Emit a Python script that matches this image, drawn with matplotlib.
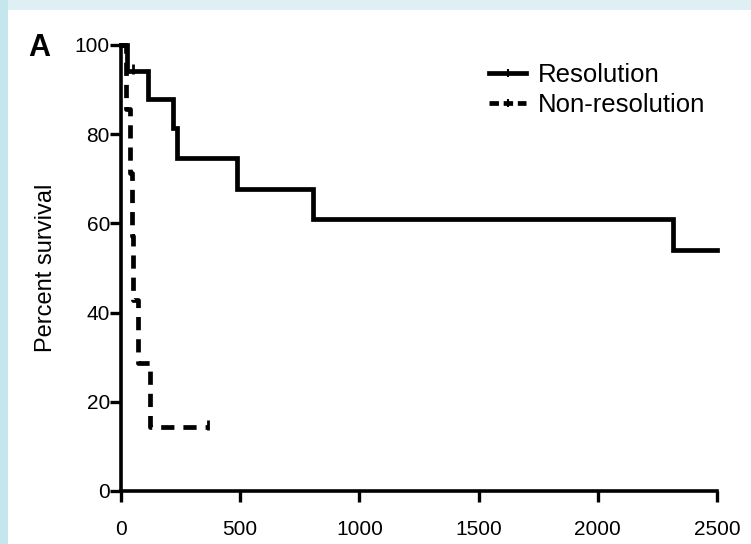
import matplotlib
matplotlib.use("Agg")
import matplotlib.pyplot as plt
from matplotlib import font_manager
from matplotlib.lines import Line2D
from matplotlib.patches import Rectangle

# ---- data ----
res_times = [0, 24, 115, 217, 236, 485, 805, 2317, 2499]
res_surv = [100, 94.1, 87.9, 81.3, 74.6, 67.7, 60.9, 54.1, 54.1]
res_cens_t = [50]
res_cens_s = [94.1]

non_times = [0, 20, 38, 46, 52, 73, 121, 366]
non_surv = [100, 85.7, 71.4, 57.1, 42.9, 28.6, 14.3, 14.3]
non_cens_t = [366]
non_cens_s = [14.3]

xticks = [0, 500, 1000, 1500, 2000, 2500]
yticks = [0, 20, 40, 60, 80, 100]
series_labels = ["Resolution", "Non-resolution"]

names = {f.name for f in font_manager.fontManager.ttflist}
fam = "Liberation Sans Narrow" if "Liberation Sans Narrow" in names else "Liberation Sans"
plt.rcParams["font.family"] = [fam, "DejaVu Sans"]

W, H = 751, 544
fig = plt.figure(figsize=(W / 100, H / 100), dpi=100)
fig.patch.set_facecolor("white")

# background frame
fig.add_artist(Rectangle((0, 1 - 10 / H), 1, 10 / H, transform=fig.transFigure,
                         facecolor="#dff0f5", edgecolor="none", zorder=0))
fig.add_artist(Rectangle((0, 0), 8 / W, 1, transform=fig.transFigure,
                         facecolor="#c5e6ed", edgecolor="none", zorder=0))

ax = fig.add_axes([121 / W, 1 - 491 / H, (717 - 121) / W, (491 - 45) / H])
ax.set_facecolor("none")

lw = 3.4
ax.step(non_times, non_surv, where="post", color="black", lw=lw,
        linestyle=(0, (2.8, 1.9)), clip_on=False, zorder=3)
ax.step(res_times, res_surv, where="post", color="black", lw=lw,
        clip_on=False, zorder=4, solid_joinstyle="miter")
ax.plot(res_cens_t, [s + 0.6 for s in res_cens_s], linestyle="none", marker="|",
        markersize=7, mew=2, color="black", clip_on=False, zorder=5)
ax.plot(non_cens_t, [s + 0.6 for s in non_cens_s], linestyle="none", marker="|",
        markersize=7, mew=2, color="black", clip_on=False, zorder=5)

ax.set_xlim(0, 2500)
ax.set_ylim(0, 100)
ax.set_xticks(xticks)
ax.set_yticks(yticks)
ax.set_xticklabels([str(v) for v in xticks], fontsize=15)
ax.set_yticklabels([str(v) for v in yticks], fontsize=15)
for s in ["top", "right"]:
    ax.spines[s].set_visible(False)
for s in ["left", "bottom"]:
    ax.spines[s].set_linewidth(2.6)
ax.tick_params(axis="both", direction="out", length=8, width=2.4, color="black")
ax.tick_params(axis="x", pad=13)
ax.tick_params(axis="y", pad=0)

ax.set_ylabel("Percent survival", fontsize=17, labelpad=13)

fig.text(28 / W, 1 - 48 / H, "A", fontsize=22, fontweight="bold",
         ha="left", va="center", family=["Liberation Sans", "DejaVu Sans"])

handles = [
    Line2D([0], [0], color="black", lw=lw, marker="|", markersize=6, mew=1.5),
    Line2D([0], [0], color="black", lw=lw, linestyle=(0, (2.0, 1.0)), marker="|",
           markersize=6, mew=1.5),
]
leg = ax.legend(handles, series_labels, loc="upper left",
                bbox_to_anchor=(489 / W, 1 - 63 / H), bbox_transform=fig.transFigure,
                frameon=False, fontsize=18.5, handlelength=1.45, handletextpad=0.45,
                labelspacing=0.25, borderpad=0, borderaxespad=0)

fig.savefig("out.png", dpi=100)
